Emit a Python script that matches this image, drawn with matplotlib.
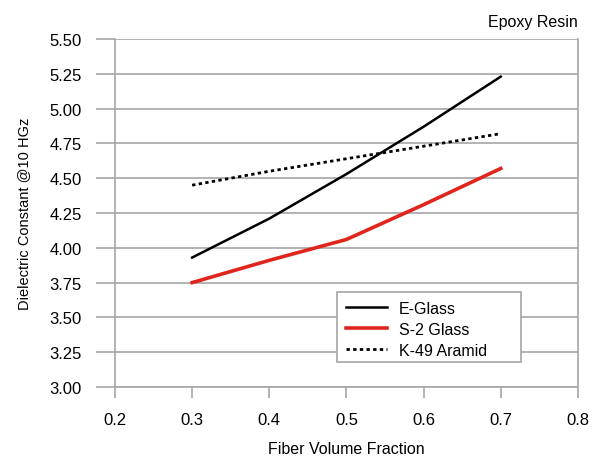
import matplotlib
matplotlib.use("Agg")
import matplotlib.pyplot as plt

plt.rcParams['font.family'] = ['Liberation Sans', 'DejaVu Sans']

# ---------------- data ----------------
fiber_fraction = [0.3, 0.4, 0.5, 0.6, 0.7]
e_glass = [3.93, 4.21, 4.53, 4.87, 5.23]
s2_glass = [3.75, 3.91, 4.06, 4.31, 4.57]
k49_aramid = [4.45, 4.55, 4.64, 4.73, 4.82]

x_ticks = [0.2, 0.3, 0.4, 0.5, 0.6, 0.7, 0.8]
y_ticks = [3.00, 3.25, 3.50, 3.75, 4.00, 4.25, 4.50, 4.75, 5.00, 5.25, 5.50]

GRID = '#a6a6a6'

# ---------------- plot ----------------
fig = plt.figure(figsize=(6.02, 4.60), dpi=100)
ax = fig.add_axes([0.191, 0.1565, 0.769, 0.7565])

ax.plot(fiber_fraction, e_glass, color='black', lw=1.8, label='E-Glass')
ax.plot(fiber_fraction, s2_glass, color='#e0261c', lw=2.6, label='S-2 Glass')
ax.plot(fiber_fraction, k49_aramid, color='black', lw=2.0, ls=(0, (1.2, 1.2)),
        label='K-49 Aramid')

ax.set_xlim(0.2, 0.8)
ax.set_ylim(3.0, 5.5)
ax.set_xticks(x_ticks)
ax.set_xticklabels([f'{v:.1f}' for v in x_ticks])
ax.set_yticks(y_ticks)
ax.set_yticklabels([f'{v:.2f}' for v in y_ticks])

ax.grid(axis='y', color=GRID, lw=1.2)
ax.set_axisbelow(True)
for side in ['left', 'right', 'bottom']:
    ax.spines[side].set_color(GRID)
    ax.spines[side].set_linewidth(1.2)
ax.spines['top'].set_visible(False)

ax.tick_params(axis='y', length=14, width=1.2, color=GRID, labelsize=12, pad=10)
ax.tick_params(axis='x', length=8, width=1.2, color=GRID, labelsize=12, pad=10)

ax.set_xlabel('Fiber Volume Fraction', fontsize=11.5, labelpad=10)
ax.set_ylabel('Dielectric Constant @10 HGz', fontsize=10.5, labelpad=13)

fig.text(0.96, 0.95, 'Epoxy Resin', ha='right', va='center', fontsize=11.5)

leg = ax.legend(loc='upper left', bbox_to_anchor=(0.479, 0.273), fontsize=11.5,
                frameon=False, handlelength=2.6, handletextpad=0.75,
                borderpad=0.55, labelspacing=0.38, borderaxespad=0)

# legend frame drawn wider than its content, as in the original
frame = plt.Rectangle((0.479, 0.072), 0.397, 0.201, transform=ax.transAxes,
                      facecolor='white', edgecolor=GRID, lw=1.2, zorder=4)
ax.add_patch(frame)
leg.set_zorder(5)

fig.savefig('out.png', dpi=100)
